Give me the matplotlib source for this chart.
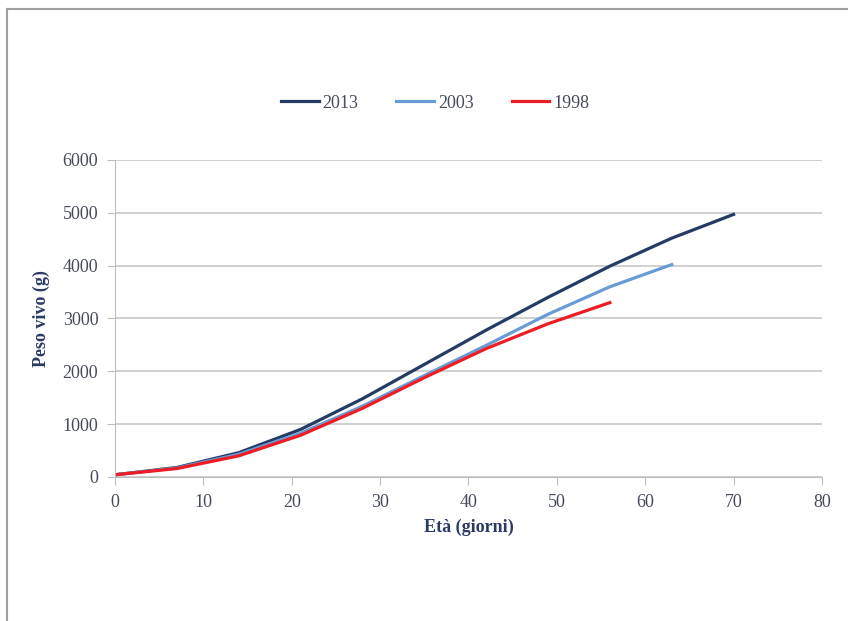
import matplotlib
matplotlib.use('Agg')
import matplotlib.pyplot as plt
from matplotlib.lines import Line2D

# growth curves (live weight, g)
days_2013 = [0, 7, 14, 21, 28, 35, 42, 49, 56, 63, 70]
peso_2013 = [42, 180, 460, 900, 1480, 2130, 2780, 3400, 3990, 4520, 4970]

days_2003 = [0, 7, 14, 21, 28, 35, 42, 49, 56, 63]
peso_2003 = [42, 170, 430, 830, 1340, 1920, 2490, 3080, 3600, 4020]

days_1998 = [0, 7, 14, 21, 28, 35, 42, 49, 56]
peso_1998 = [42, 160, 400, 790, 1300, 1880, 2430, 2900, 3300]

plt.rcParams['font.family'] = ['Liberation Serif', 'DejaVu Serif']

fig = plt.figure(figsize=(8.48, 6.21), dpi=100)
ax = fig.add_axes([0.1356, 0.2319, 0.8337, 0.5105])

ax.plot(days_2013, peso_2013, color='#243b64', lw=2.3, label='2013', solid_joinstyle='round')
ax.plot(days_2003, peso_2003, color='#6a9bd6', lw=2.3, label='2003', solid_joinstyle='round')
ax.plot(days_1998, peso_1998, color='#ee1c25', lw=2.3, label='1998', solid_joinstyle='round')

ax.set_xlim(0, 80)
ax.set_ylim(0, 6000)
ax.set_xticks(range(0, 81, 10))
ax.set_yticks(range(0, 6001, 1000))
ax.yaxis.grid(True, color='#c8c8c8', lw=1.2)
ax.set_axisbelow(True)
for s in ['top', 'right']:
    ax.spines[s].set_visible(False)
for s in ['left', 'bottom']:
    ax.spines[s].set_color('#bdbdbd')
ax.tick_params(axis='both', colors='#bdbdbd', labelcolor='#454b5a', labelsize=13, length=6)
ax.tick_params(axis='x', pad=6)
ax.tick_params(axis='y', pad=6)

ax.set_xlabel('Età (giorni)', fontsize=13, fontweight='bold', color='#2a3a66', labelpad=6)
ax.set_ylabel('Peso vivo (g)', fontsize=13, fontweight='bold', color='#2a3a66', labelpad=9)

fig.legend(loc='center', bbox_to_anchor=(0.513, 0.834), ncol=3, frameon=False,
           fontsize=13, handlelength=2.1, handletextpad=0.2, columnspacing=2.1,
           labelcolor='#454b5a')

# thin grey frame (top and left edges visible in the reference)
fig.add_artist(Line2D([7/848, 1], [1-9/621, 1-9/621], color='#a0a0a0', lw=1.5, transform=fig.transFigure))
fig.add_artist(Line2D([7/848, 7/848], [0, 1-9/621], color='#a0a0a0', lw=1.5, transform=fig.transFigure))

fig.savefig('out.png', dpi=100, facecolor='white')
